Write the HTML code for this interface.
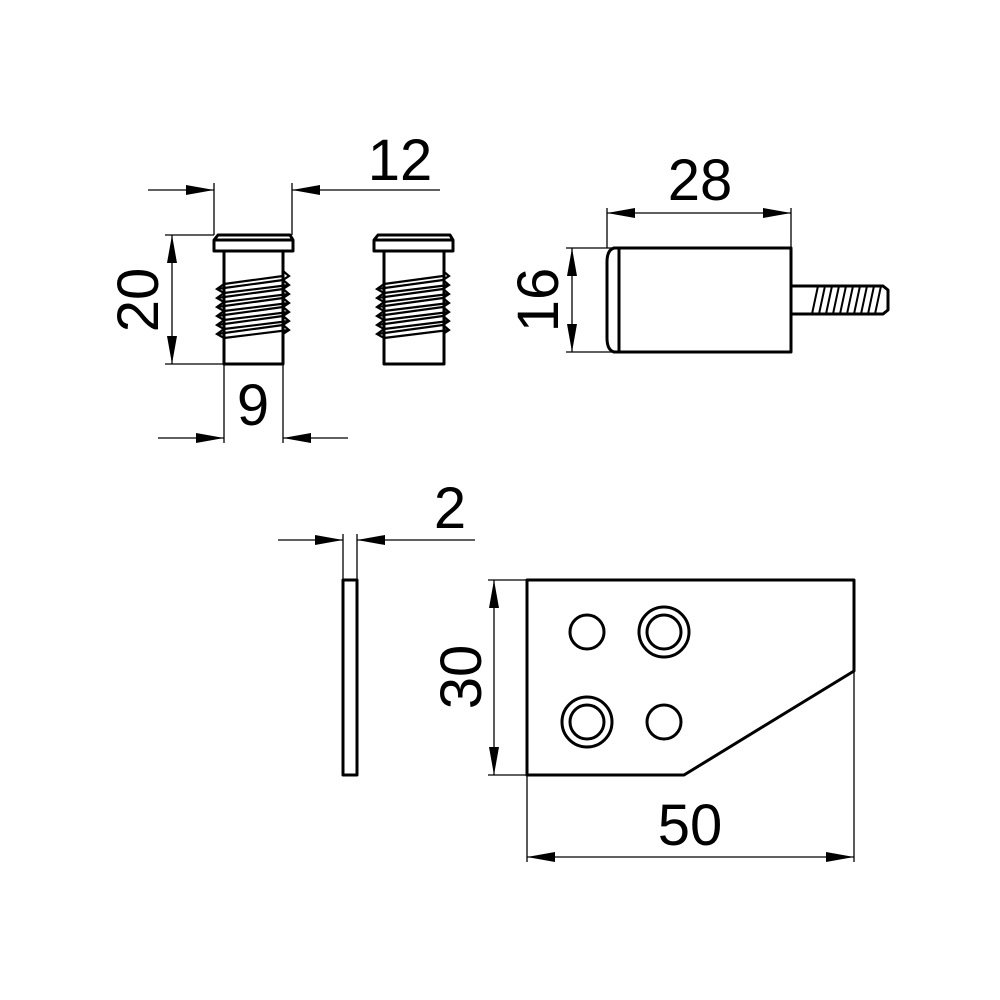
<!DOCTYPE html>
<html><head><meta charset="utf-8"><style>
html,body{margin:0;padding:0;background:#fff;}
svg{display:block;}
text{font-family:"Liberation Sans","DejaVu Sans",sans-serif;font-size:58px;fill:#000;}
</style></head><body>
<svg width="1000" height="1000" viewBox="0 0 1000 1000" xmlns="http://www.w3.org/2000/svg">
<defs>
<marker id="a" viewBox="0 0 28 10" refX="28" refY="5" markerWidth="28" markerHeight="10" markerUnits="userSpaceOnUse" orient="auto">
<path d="M0,0 L28,5 L0,10 Z" fill="#000"/></marker>
</defs>
<g fill="none" stroke="#000" stroke-width="1.3">
<!-- dim 12 -->
<line x1="148" y1="190" x2="214" y2="190" marker-end="url(#a)"/>
<line x1="440" y1="190" x2="292" y2="190" marker-end="url(#a)"/>
<line x1="214" y1="183" x2="214" y2="235"/>
<line x1="292" y1="183" x2="292" y2="235"/>
<!-- dim 20 -->
<line x1="172" y1="300" x2="172" y2="235" marker-end="url(#a)"/>
<line x1="172" y1="300" x2="172" y2="364" marker-end="url(#a)"/>
<line x1="165" y1="235" x2="214" y2="235"/>
<line x1="165" y1="364" x2="224" y2="364"/>
<!-- dim 9 -->
<line x1="158" y1="438" x2="224" y2="438" marker-end="url(#a)"/>
<line x1="348" y1="438" x2="283" y2="438" marker-end="url(#a)"/>
<line x1="224" y1="364" x2="224" y2="443"/>
<line x1="283" y1="364" x2="283" y2="443"/>
<!-- dim 28 -->
<line x1="700" y1="213" x2="607" y2="213" marker-end="url(#a)"/>
<line x1="700" y1="213" x2="791" y2="213" marker-end="url(#a)"/>
<line x1="607" y1="208" x2="607" y2="248"/>
<line x1="791" y1="208" x2="791" y2="248"/>
<!-- dim 16 -->
<line x1="572" y1="300" x2="572" y2="248" marker-end="url(#a)"/>
<line x1="572" y1="300" x2="572" y2="352" marker-end="url(#a)"/>
<line x1="566" y1="248" x2="619" y2="248"/>
<line x1="566" y1="352" x2="619" y2="352"/>
<!-- dim 2 -->
<line x1="278" y1="540" x2="343" y2="540" marker-end="url(#a)"/>
<line x1="475" y1="540" x2="357" y2="540" marker-end="url(#a)"/>
<line x1="343" y1="534" x2="343" y2="580"/>
<line x1="357" y1="534" x2="357" y2="580"/>
<!-- dim 30 -->
<line x1="494" y1="677" x2="494" y2="580" marker-end="url(#a)"/>
<line x1="494" y1="677" x2="494" y2="775" marker-end="url(#a)"/>
<line x1="488" y1="580" x2="527" y2="580"/>
<line x1="488" y1="775" x2="527" y2="775"/>
<!-- dim 50 -->
<line x1="690" y1="857" x2="527" y2="857" marker-end="url(#a)"/>
<line x1="690" y1="857" x2="854" y2="857" marker-end="url(#a)"/>
<line x1="527" y1="775" x2="527" y2="862"/>
<line x1="854" y1="671" x2="854" y2="862"/>
</g>
<g fill="none" stroke="#000" stroke-width="3" stroke-linejoin="round">
<!-- dowel 1 -->
<path d="M218,235 H290 L293,240 V251 H214 V240 Z"/>
<line x1="214" y1="240" x2="293" y2="240"/>
<rect x="224" y="251" width="59" height="113"/>
<!-- dowel 2 -->
<path d="M378,235 H450 L453,240 V251 H374 V240 Z"/>
<line x1="374" y1="240" x2="453" y2="240"/>
<rect x="384" y="251" width="60" height="113"/>
</g>
<g fill="none" stroke="#000" stroke-width="2.2">
<path d="M224,284 L217,289 L224,293 L217,298 L224,302 L217,307 L224,311 L217,316 L224,320 L217,325 L224,329 L217,334 L224,338"/>
<path d="M283,271 L289,276 L283,280 L289,285 L283,289 L289,294 L283,298 L289,303 L283,307 L289,312 L283,316 L289,321 L283,325 L289,330 L283,334"/>
<line x1="217" y1="289" x2="283" y2="280"/><line x1="224" y1="293" x2="289" y2="285"/>
<line x1="217" y1="298" x2="283" y2="289"/><line x1="224" y1="302" x2="289" y2="294"/>
<line x1="217" y1="307" x2="283" y2="298"/><line x1="224" y1="311" x2="289" y2="303"/>
<line x1="217" y1="316" x2="283" y2="307"/><line x1="224" y1="320" x2="289" y2="312"/>
<line x1="217" y1="325" x2="283" y2="316"/><line x1="224" y1="329" x2="289" y2="321"/>
<line x1="217" y1="334" x2="283" y2="325"/><line x1="224" y1="338" x2="289" y2="330"/>
<line x1="224" y1="284" x2="283" y2="276"/>
<g transform="translate(160,0)">
<path d="M224,284 L217,289 L224,293 L217,298 L224,302 L217,307 L224,311 L217,316 L224,320 L217,325 L224,329 L217,334 L224,338"/>
<path d="M283,271 L289,276 L283,280 L289,285 L283,289 L289,294 L283,298 L289,303 L283,307 L289,312 L283,316 L289,321 L283,325 L289,330 L283,334"/>
<line x1="217" y1="289" x2="283" y2="280"/><line x1="224" y1="293" x2="289" y2="285"/>
<line x1="217" y1="298" x2="283" y2="289"/><line x1="224" y1="302" x2="289" y2="294"/>
<line x1="217" y1="307" x2="283" y2="298"/><line x1="224" y1="311" x2="289" y2="303"/>
<line x1="217" y1="316" x2="283" y2="307"/><line x1="224" y1="320" x2="289" y2="312"/>
<line x1="217" y1="325" x2="283" y2="316"/><line x1="224" y1="329" x2="289" y2="321"/>
<line x1="217" y1="334" x2="283" y2="325"/><line x1="224" y1="338" x2="289" y2="330"/>
<line x1="224" y1="284" x2="283" y2="276"/>
</g>
</g>
<g fill="none" stroke="#000" stroke-width="3" stroke-linejoin="round">
<!-- pin -->
<rect x="619" y="248" width="172" height="104"/>
<path d="M619,248 H614 Q607,250 607,262 V338 Q607,350 614,352 H619"/>
<path d="M791,286 H883 L888,290 V310 L883,314 H791"/>
<!-- plate -->
<rect x="343" y="580" width="14" height="195"/>
<!-- bracket -->
<path d="M527,580 H854 V671 L684,775 H527 Z"/>
<circle cx="587" cy="632" r="17"/>
<circle cx="664" cy="632" r="25"/><circle cx="664" cy="632" r="17"/>
<circle cx="587" cy="722" r="25"/><circle cx="587" cy="722" r="17"/>
<circle cx="664" cy="722" r="17"/>
</g>
<g stroke="#000" stroke-width="2">
<line x1="812" y1="314" x2="818" y2="286"/><line x1="819" y1="314" x2="825" y2="286"/>
<line x1="826" y1="314" x2="832" y2="286"/><line x1="833" y1="314" x2="839" y2="286"/>
<line x1="840" y1="314" x2="846" y2="286"/><line x1="847" y1="314" x2="853" y2="286"/>
<line x1="854" y1="314" x2="860" y2="286"/><line x1="861" y1="314" x2="867" y2="286"/>
<line x1="868" y1="314" x2="874" y2="286"/><line x1="875" y1="314" x2="881" y2="286"/>
</g>
<text x="400" y="180" text-anchor="middle">12</text>
<text x="253" y="425" text-anchor="middle">9</text>
<text x="700" y="200" text-anchor="middle">28</text>
<text x="450" y="528" text-anchor="middle">2</text>
<text x="690" y="845" text-anchor="middle">50</text>
<text transform="translate(158,300) rotate(-90)" text-anchor="middle">20</text>
<text transform="translate(558,300) rotate(-90)" text-anchor="middle">16</text>
<text transform="translate(481,677) rotate(-90)" text-anchor="middle">30</text>
</svg>
</body></html>
